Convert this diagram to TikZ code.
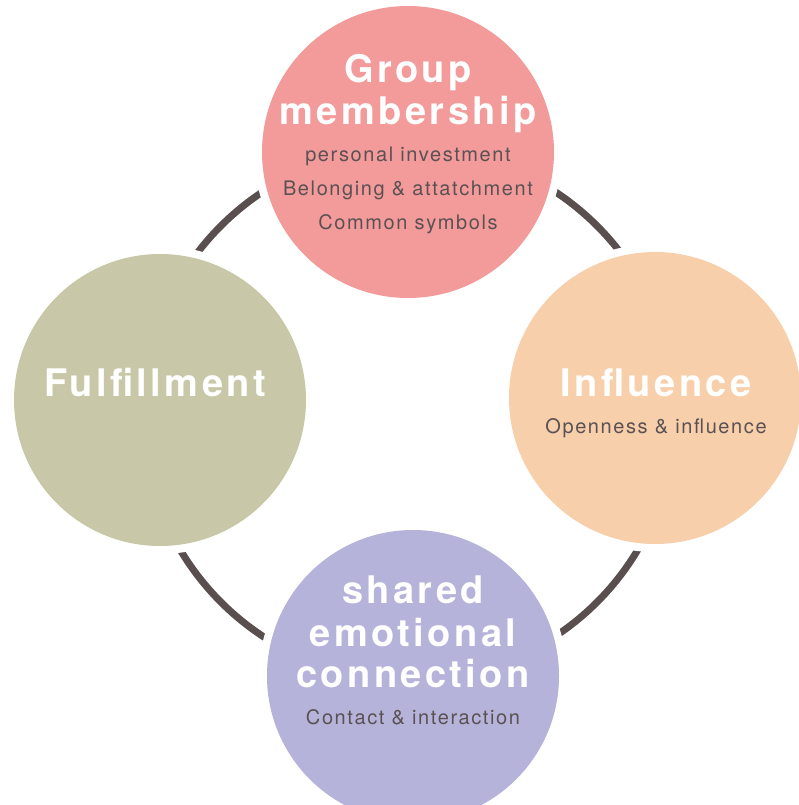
\documentclass[tikz,border=0pt]{standalone}
\usepackage{fontspec}
\setmainfont{TeX Gyre Heros}
\newfontfamily\headfont[LetterSpace=9]{TeX Gyre Heros}
\newfontfamily\notefont[LetterSpace=8]{TeX Gyre Heros}
\definecolor{ringgray}{HTML}{594F4F}
\definecolor{notegray}{HTML}{5B5153}
\definecolor{cpink}{HTML}{F29B9A}
\definecolor{colive}{HTML}{C8C8A9}
\definecolor{cpeach}{HTML}{F8CFAB}
\definecolor{clavender}{HTML}{B5B3D9}
\tikzset{
  bubble/.style={circle, minimum size=292pt, inner sep=0pt, draw=none},
  halo/.style={fill=white},
  headline/.style={anchor=base, text=white, inner sep=0pt,
    font=\headfont\bfseries\fontsize{38}{41}\selectfont},
  noteline/.style={anchor=base, text=notegray, inner sep=0pt,
    font=\notefont\fontsize{20}{23}\selectfont},
  ring/.style={draw=ringgray, line width=7pt}
}
\begin{document}
\begin{tikzpicture}[x=1pt, y=-1pt]
  \useasboundingbox (0,0) rectangle (799,805);
  \clip (0,0) rectangle (799,805);
  \fill[white] (0,0) rectangle (799,805);

  % centres of the ring and of the four stages
  \coordinate (hub) at (409,414);
  \coordinate (ctop) at (408,152);
  \coordinate (cleft) at (160,400);
  \coordinate (cright) at (655,398);
  \coordinate (cbottom) at (413,676);

  % the ring linking the stages
  \draw[ring] (hub) circle (266);

  % white gaps around each stage
  \foreach \c in {ctop,cleft,cright,cbottom}
    \fill[halo] (\c) circle (154);

  % the four stages
  \node[bubble, fill=cpink] (top) at (ctop) {};
  \node[bubble, fill=colive] (left) at (cleft) {};
  \node[bubble, fill=cpeach] (right) at (cright) {};
  \node[bubble, fill=clavender] (bottom) at (cbottom) {};

  % Group membership
  \node[headline] (g1) at (408,83) {Group};
  \node[headline] (g2) at (408,125) {membership};
  \node[noteline] (g3) at (408,162) {personal investment};
  \node[noteline] (g4) at (408,196) {Belonging \& attatchment};
  \node[noteline] (g5) at (408,229) {Common symbols};

  % Fulfillment
  \node[headline] (f1) at (155,396) {Fulfillment};

  % Influence
  \node[headline] (i1) at (656,396) {Influence};
  \node[noteline] (i2) at (656,433) {Openness \& influence};

  % shared emotional connection
  \node[headline] (s1) at (413,603) {shared};
  \node[headline] (s2) at (413,646) {emotional};
  \node[headline] (s3) at (413,687) {connection};
  \node[noteline] (s4) at (413,724) {Contact \& interaction};
\end{tikzpicture}
\end{document}
